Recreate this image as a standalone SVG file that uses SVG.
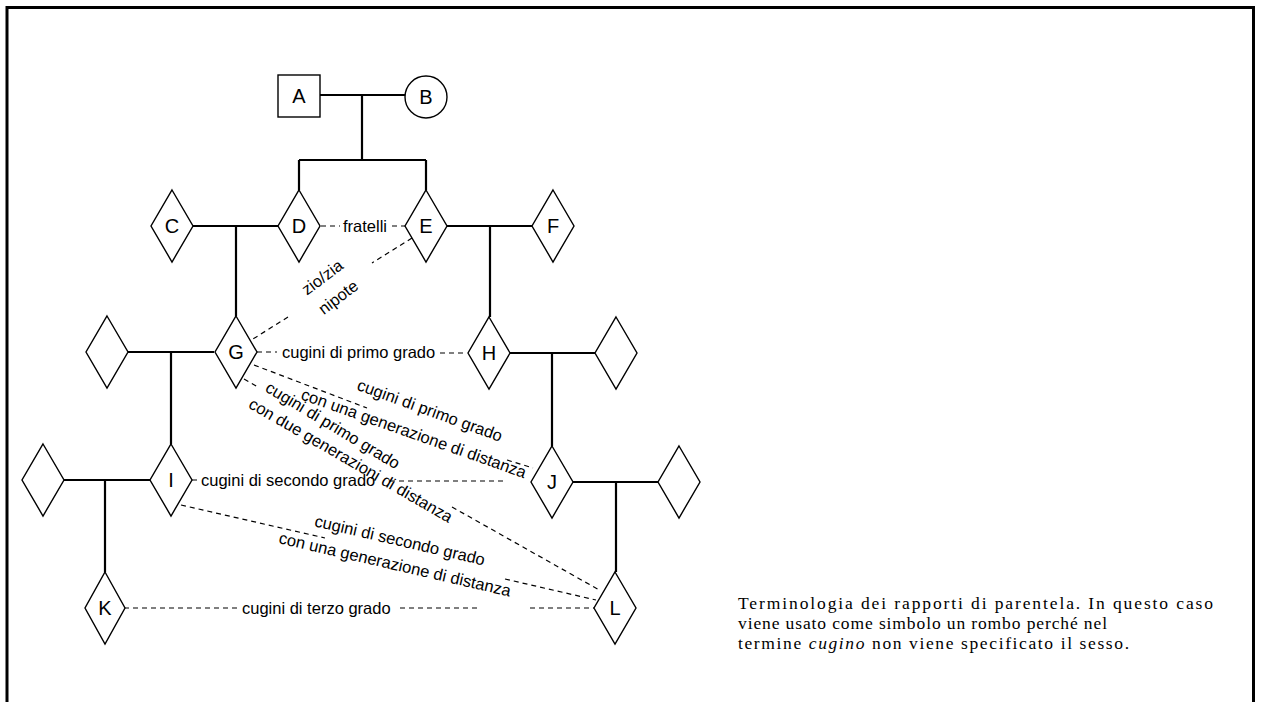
<svg xmlns="http://www.w3.org/2000/svg" width="1261" height="702" viewBox="0 0 1261 702">
<style>
.bg{fill:#fff}
.frame{fill:none;stroke:#000;stroke-width:3}
.node{fill:#fff;stroke:#000;stroke-width:1.4}
.fam{fill:none;stroke:#000;stroke-width:2.2}
.dash{fill:none;stroke:#000;stroke-width:1.2;stroke-dasharray:5 4}
.lt{font-family:"Liberation Sans",Arial,sans-serif;font-size:20px;text-anchor:middle;fill:#000}
.lab{font-family:"Liberation Sans",Arial,sans-serif;font-size:16.5px;fill:#000}
.rl{font-family:"Liberation Sans",Arial,sans-serif;font-size:16.5px;fill:#000;text-anchor:middle}
.cap{font-family:"Liberation Serif","Times New Roman",serif;font-size:17.5px;fill:#000}
</style>
<rect class="bg" x="0" y="0" width="1261" height="702"/>
<path class="frame" d="M7,702 V7.5 H1253.5 V702"/>

<g id="connectors">
  <path class="fam" d="M320,95 H405 M362,95 V160 M299,160 H426 M299,160 V190 M426,160 V190"/>
  <path class="fam" d="M193,226 H278 M236,226 V316"/>
  <path class="fam" d="M447,226 H532 M490,226 V317"/>
  <path class="fam" d="M128,352 H214 M171,352 V444"/>
  <path class="fam" d="M510,353 H595 M552,353 V446"/>
  <path class="fam" d="M64,480 H150 M105,480 V572"/>
  <path class="fam" d="M573,482 H658 M616,482 V572"/>

  <path class="dash" d="M321,226 H340 M392,226 H405"/>
  <path class="dash" d="M412,238 L372,263 M288,317 L253,339"/>
  <path class="dash" d="M257,352 H277 M440,353 H467"/>
  <path class="dash" d="M254,365 L367,408 M507,460 L533,468"/>
  <path class="dash" d="M244,379 L258,387 M452,507 L601,591"/>
  <path class="dash" d="M192,480 H197 M390,481 H505"/>
  <path class="dash" d="M181,505 L325,538 M505,579 L596,600"/>
  <path class="dash" d="M124,608 H240 M400,608 H480 M530,608 H594"/>

  <text class="lab" x="343" y="232">fratelli</text>
  <text class="rl" transform="translate(322,277) rotate(-37)" y="6">zio/zia</text>
  <text class="rl" transform="translate(338,297) rotate(-37)" y="6">nipote</text>
  <text class="lab" x="282" y="358">cugini di primo grado</text>
  <text class="rl" transform="translate(430,410) rotate(20)" y="6">cugini di primo grado</text>
  <text class="rl" transform="translate(414,433) rotate(19.5)" y="6">con una generazione di distanza</text>
  <text class="rl" transform="translate(333,425) rotate(31)" y="6">cugini di primo grado</text>
  <text class="rl" transform="translate(351,460) rotate(30)" y="6">con due generazioni di distanza</text>
  <text class="lab" x="201" y="486">cugini di secondo grado</text>
  <text class="rl" transform="translate(400,540) rotate(13)" y="6">cugini di secondo grado</text>
  <text class="rl" transform="translate(395,564) rotate(13)" y="6">con una generazione di distanza</text>
  <text class="lab" x="242" y="614">cugini di terzo grado</text>
</g>

<g id="A"><rect class="node" x="278" y="75" width="42" height="42"/><text class="lt" x="299" y="103">A</text></g>
<g id="B"><circle class="node" cx="426" cy="97" r="21"/><text class="lt" x="426" y="104">B</text></g>
<g id="C"><path class="node" d="M172,190 L193,226 L172,262 L151,226 Z"/><text class="lt" x="172" y="233">C</text></g>
<g id="D"><path class="node" d="M299,190 L320,226 L299,262 L278,226 Z"/><text class="lt" x="299" y="233">D</text></g>
<g id="E"><path class="node" d="M426,190 L447,226 L426,262 L405,226 Z"/><text class="lt" x="426" y="233">E</text></g>
<g id="F"><path class="node" d="M553,190 L574,226 L553,262 L532,226 Z"/><text class="lt" x="553" y="233">F</text></g>
<g id="G-spouse"><path class="node" d="M107,316 L128,352 L107,388 L86,352 Z"/></g>
<g id="G"><path class="node" d="M236,316 L257,352 L236,388 L215,352 Z"/><text class="lt" x="236" y="359">G</text></g>
<g id="H"><path class="node" d="M489,317 L510,353 L489,389 L468,353 Z"/><text class="lt" x="489" y="360">H</text></g>
<g id="H-spouse"><path class="node" d="M616,317 L637,353 L616,389 L595,353 Z"/></g>
<g id="I-spouse"><path class="node" d="M43,444 L64,480 L43,516 L22,480 Z"/></g>
<g id="I"><path class="node" d="M171,444 L192,480 L171,516 L150,480 Z"/><text class="lt" x="171" y="487">I</text></g>
<g id="J"><path class="node" d="M552,446 L573,482 L552,518 L531,482 Z"/><text class="lt" x="552" y="489">J</text></g>
<g id="J-spouse"><path class="node" d="M679,446 L700,482 L679,518 L658,482 Z"/></g>
<g id="K"><path class="node" d="M105,572 L125,608 L105,644 L85,608 Z"/><text class="lt" x="105" y="615">K</text></g>
<g id="L"><path class="node" d="M615,572 L636,608 L615,644 L594,608 Z"/><text class="lt" x="615" y="615">L</text></g>

<g id="caption">
  <text class="cap" x="738" y="609" textLength="475" lengthAdjust="spacing">Terminologia dei rapporti di parentela. In questo caso</text>
  <text class="cap" x="738" y="629" textLength="369" lengthAdjust="spacing">viene usato come simbolo un rombo perché nel</text>
  <text class="cap" x="738" y="649" textLength="391" lengthAdjust="spacing">termine <tspan font-style="italic">cugino</tspan> non viene specificato il sesso.</text>
</g>
</svg>
